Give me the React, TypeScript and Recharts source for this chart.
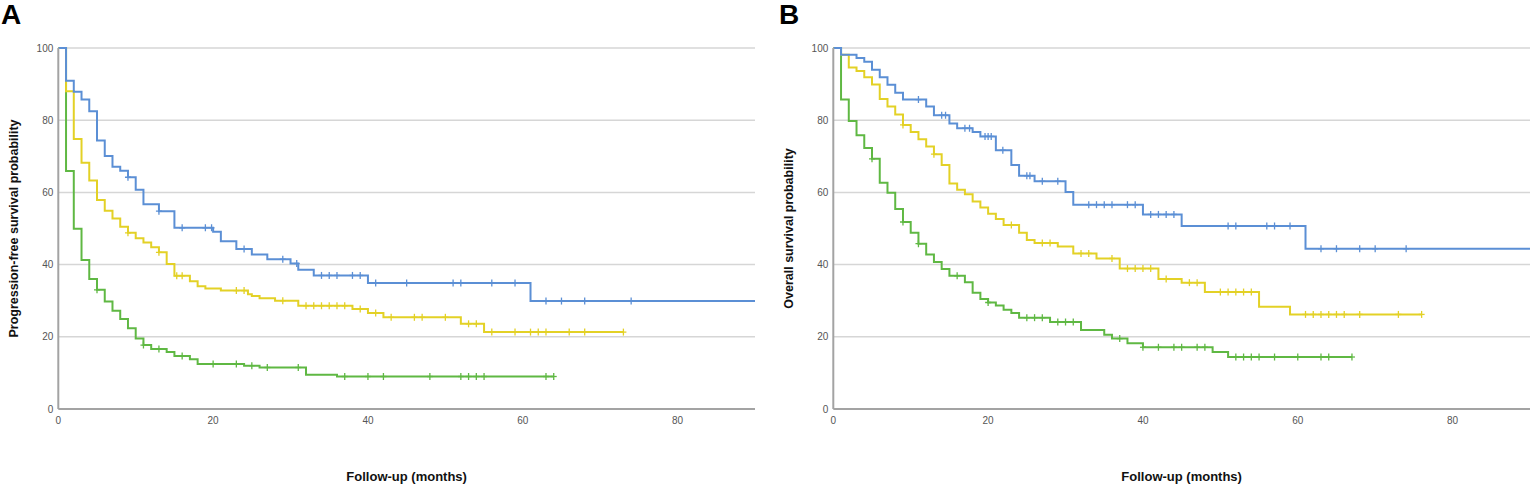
import {
  CartesianGrid,
  ComposedChart,
  Line,
  Scatter,
  XAxis,
  YAxis,
} from 'recharts';

// [month, survival %] — the curve drops to the value at that month
const PFS_HIGH = [
  [0, 100], [1, 90.9], [2, 87.9], [3, 85.7], [4, 82.5], [5, 74.4], [6, 70.1],
  [7, 67.1], [8, 66.0], [9, 64.2], [10, 60.7], [11, 56.7], [13, 54.8], [15, 50.2],
  [20, 49.1], [21, 46.5], [23, 44.3], [25, 42.8], [27, 41.5], [30, 40.3], [31, 38.6],
  [33, 37.0], [40, 34.9], [61, 29.9], [90, 29.9],
];
const PFS_HIGH_CENSOR = [
  9, 13, 16, 19, 19.8, 24, 29, 30.8, 34, 35, 36, 38, 39, 41, 45, 51, 52, 56, 59, 63, 65, 68, 74,
];

const PFS_MID = [
  [0, 100], [1, 88.0], [2, 74.8], [3, 68.2], [4, 63.3], [5, 57.9], [6, 54.9],
  [7, 52.8], [8, 50.5], [9, 48.8], [10, 47.3], [11, 46.1], [12, 44.8], [13, 43.4],
  [14, 40.2], [15, 36.9], [17, 35.4], [18, 34.0], [19, 33.4], [21, 32.8], [24.5, 31.8],
  [25, 31.3], [26, 30.7], [28, 30.0], [31, 28.6], [38, 27.7], [40, 26.6], [42, 25.4],
  [52, 23.6], [55, 21.3], [73, 21.3],
];
const PFS_MID_CENSOR = [
  9, 13, 15.3, 16, 23, 24, 29, 32, 33, 34, 35, 36, 37, 39, 41, 43, 46, 47, 50, 53, 54,
  56, 59, 61, 62, 63, 66, 68, 73,
];

const PFS_LOW = [
  [0, 100], [1, 65.9], [2, 49.9], [3, 41.3], [4, 36.0], [5, 33.0], [6, 29.8],
  [7, 27.2], [8, 24.9], [9, 22.4], [10, 19.5], [11, 17.7], [12, 16.6], [14, 15.8],
  [15, 14.7], [17, 13.8], [18, 12.5], [24, 12.0], [26, 11.5], [32, 9.5], [36, 9.0],
  [64, 9.0],
];
const PFS_LOW_CENSOR = [
  5, 11, 13, 16, 20, 23, 25, 27, 31, 37, 40, 42, 48, 52, 53, 54, 55, 63, 64,
];

const OS_HIGH = [
  [0, 100], [1, 98.1], [3, 97.2], [4, 96.2], [5, 94.0], [6, 91.9], [7, 89.8],
  [8, 87.6], [9, 85.7], [12, 83.8], [13, 81.4], [15, 79.1], [16, 77.8], [18, 76.7],
  [19, 75.5], [21, 71.7], [23, 67.6], [24, 64.6], [26, 63.1], [30, 60.1], [31, 56.6],
  [40, 53.9], [45, 50.7], [61, 44.4], [90, 44.4],
];
const OS_HIGH_CENSOR = [
  11, 14, 14.5, 17, 17.6, 19.6, 20, 20.4, 21.9, 25, 25.4, 27, 29, 33, 34, 35, 36, 38,
  39, 41, 42, 43, 44, 51, 52, 56, 57, 59, 63, 65, 68, 70, 74,
];

const OS_MID = [
  [0, 100], [1, 98.1], [2, 94.6], [3, 93.6], [4, 91.9], [5, 89.9], [6, 85.9],
  [7, 83.8], [8, 81.6], [9, 78.7], [10, 76.7], [11, 74.7], [12, 72.7], [13, 70.6],
  [14, 67.6], [15, 62.5], [16, 60.7], [17, 59.5], [18, 57.5], [19, 55.8], [20, 54.1],
  [21, 52.6], [22, 51.0], [24, 48.8], [25, 46.8], [26, 46.0], [29, 45.0], [31, 43.1],
  [34, 41.7], [37, 38.9], [42, 36.0], [45, 35.0], [48, 32.4], [55, 28.3], [59, 26.2],
  [76, 26.2],
];
const OS_MID_CENSOR = [
  9, 13, 23, 27, 28, 32, 33, 36, 38, 39, 40, 41, 43, 46, 47, 50, 51, 52, 53, 54, 61,
  62, 63, 64, 65, 66, 68, 73, 76,
];

const OS_LOW = [
  [0, 100], [1, 85.7], [2, 79.8], [3, 75.8], [4, 72.3], [5, 69.3], [6, 62.7],
  [7, 59.9], [8, 55.4], [9, 51.8], [10, 48.8], [11, 45.8], [12, 42.8], [13, 40.7],
  [14, 38.8], [15, 36.9], [17, 35.1], [18, 32.2], [19, 30.5], [20, 29.5], [21, 28.7],
  [22, 27.5], [23, 26.6], [24, 25.3], [28, 24.1], [32, 21.9], [35, 20.6], [36, 19.5],
  [38, 18.2], [40, 17.1], [49, 15.8], [51, 14.4], [67, 14.4],
];
const OS_LOW_CENSOR = [
  5, 9, 11, 16, 20, 25, 26, 27, 29, 30, 31, 37, 40, 42, 44, 45, 47, 48, 52, 53, 54,
  55, 57, 60, 63, 64, 67,
];

const X_TICKS = [0, 20, 40, 60, 80];
const Y_TICKS = [0, 20, 40, 60, 80, 100];

const BLUE = '#5b8fd5';
const YELLOW = '#e3d126';
const GREEN = '#5fb843';
const FONT = '"Liberation Sans", Arial, sans-serif';

type Step = number[];

const toPoints = (steps: Step[]) => steps.map(([t, s]) => ({ t, s }));

// survival at each censoring time
const censorPoints = (steps: Step[], times: number[]) =>
  times.map((t) => {
    let s = steps[0][1];
    for (const [st, sv] of steps) if (st <= t) s = sv;
    return { t, s };
  });

const censorMark = (color: string) => (props: any) => {
  const { cx, cy } = props;
  return (
    <g>
      <line x1={cx} x2={cx} y1={cy - 3.5} y2={cy + 3.5} stroke={color} strokeWidth={1.3} />
      <line x1={cx - 3} x2={cx + 3} y1={cy} y2={cy} stroke={color} strokeWidth={1.3} />
    </g>
  );
};

interface Group {
  steps: Step[];
  censor: number[];
  color: string;
}

function KmPanel({
  groups,
  yLabel,
  width,
  marginRight,
}: {
  groups: Group[];
  yLabel: string;
  width: number;
  marginRight: number;
}) {
  return (
    <ComposedChart
      width={width}
      height={486}
      margin={{ top: 48, right: marginRight, bottom: 47, left: 0 }}
    >
      <CartesianGrid
        stroke="#d6d6d6"
        strokeWidth={1.5}
        vertical={false}
        horizontalValues={[20, 40, 60, 80, 100]}
      />
      <XAxis
        type="number"
        dataKey="t"
        domain={[0, 90]}
        ticks={X_TICKS}
        allowDataOverflow
        tickLine={false}
        axisLine={{ stroke: '#a3a3a3', strokeWidth: 2 }}
        tick={{ fontSize: 10, fill: '#555', fontFamily: FONT }}
        label={{
          value: 'Follow-up (months)',
          position: 'insideBottom',
          offset: -42,
          style: { fontSize: 13, fontWeight: 700, fill: '#111', fontFamily: FONT },
        }}
      />
      <YAxis
        type="number"
        dataKey="s"
        domain={[0, 100]}
        ticks={Y_TICKS}
        width={58.3}
        tickSize={3}
        tickLine={false}
        axisLine={{ stroke: '#a3a3a3', strokeWidth: 2 }}
        tick={{ fontSize: 10, fill: '#555', fontFamily: FONT }}
        label={{
          value: yLabel,
          angle: -90,
          position: 'insideLeft',
          offset: 14,
          style: {
            fontSize: 12.5,
            fontWeight: 700,
            fill: '#111',
            fontFamily: FONT,
            textAnchor: 'middle',
          },
        }}
      />
      {groups.map((g, i) => (
        <Line
          key={`line-${i}`}
          data={toPoints(g.steps)}
          dataKey="s"
          type="stepAfter"
          stroke={g.color}
          strokeWidth={2}
          dot={false}
          activeDot={false}
          isAnimationActive={false}
        />
      ))}
      {groups.map((g, i) => (
        <Scatter
          key={`cens-${i}`}
          data={censorPoints(g.steps, g.censor)}
          shape={censorMark(g.color)}
          isAnimationActive={false}
        />
      ))}
    </ComposedChart>
  );
}

const PFS_GROUPS: Group[] = [
  { steps: PFS_LOW, censor: PFS_LOW_CENSOR, color: GREEN },
  { steps: PFS_MID, censor: PFS_MID_CENSOR, color: YELLOW },
  { steps: PFS_HIGH, censor: PFS_HIGH_CENSOR, color: BLUE },
];

const OS_GROUPS: Group[] = [
  { steps: OS_LOW, censor: OS_LOW_CENSOR, color: GREEN },
  { steps: OS_MID, censor: OS_MID_CENSOR, color: YELLOW },
  { steps: OS_HIGH, censor: OS_HIGH_CENSOR, color: BLUE },
];

const letterStyle = {
  position: 'absolute' as const,
  top: 1,
  fontSize: 28,
  lineHeight: '28px',
  fontWeight: 700,
  fontFamily: FONT,
  color: '#000',
};

export default function App() {
  return (
    <div
      style={{
        position: 'absolute',
        left: 0,
        top: 0,
        width: 1535,
        height: 486,
        background: '#fff',
        overflow: 'hidden',
      }}
    >
      <div style={{ position: 'absolute', left: 0, top: 0 }}>
        <KmPanel
          groups={PFS_GROUPS}
          yLabel="Progression-free survival probability"
          width={770}
          marginRight={15}
        />
      </div>
      <div style={{ position: 'absolute', left: 775, top: 0 }}>
        <KmPanel
          groups={OS_GROUPS}
          yLabel="Overall survival probability"
          width={760}
          marginRight={5}
        />
      </div>
      <div style={{ ...letterStyle, left: 1 }}>A</div>
      <div style={{ ...letterStyle, left: 779 }}>B</div>
    </div>
  );
}
